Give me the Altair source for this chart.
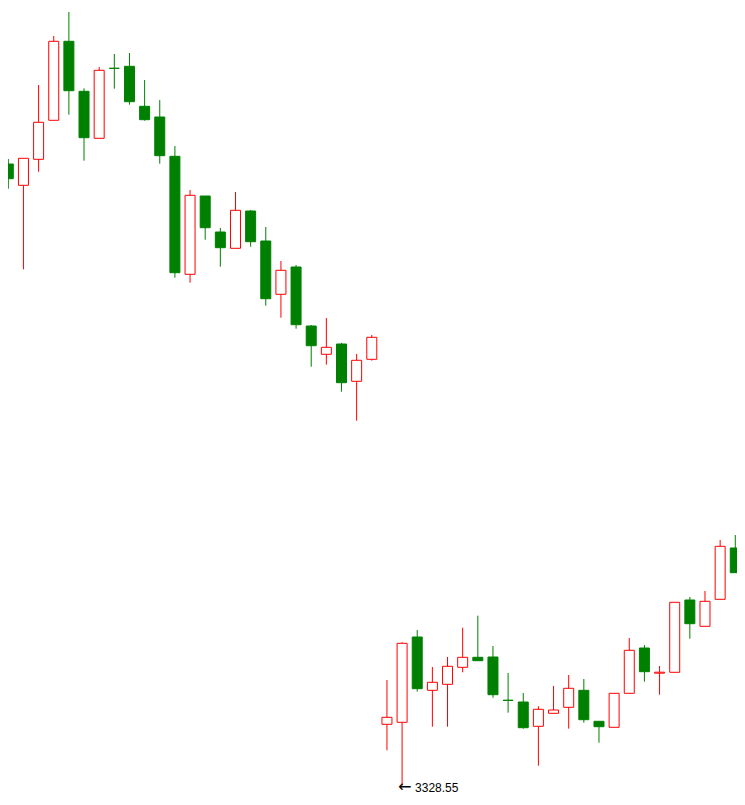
import altair as alt
import pandas as pd

# OHLC values (49 sessions)
opens = [3950.25, 3928.95, 3954.95, 3993.95, 4072.95, 4022.95, 3975.95, 4045.95, 4047.95, 4007.95,
         3997.25, 3957.95, 3839.95, 3918.25, 3882.25, 3865.95, 3903.25, 3873.25, 3819.95, 3847.25,
         3788.25, 3759.95, 3770.25, 3732.95, 3754.95, 3389.95, 3391.95, 3477.25, 3423.95, 3429.95,
         3446.95, 3456.95, 3457.25, 3413.95, 3412.25, 3387.95, 3400.95, 3406.95, 3423.95, 3392.95,
         3386.95, 3420.95, 3466.25, 3441.05, 3441.95, 3514.25, 3487.95, 3514.95, 3566.25]
highs = [3955.25, 3955.95, 4029.25, 4078.25, 4102.25, 4025.95, 4047.25, 4060.25, 4061.25, 4034.25,
         4014.25, 3968.25, 3924.25, 3918.25, 3886.25, 3922.25, 3904.25, 3887.25, 3853.25, 3849.25,
         3789.25, 3796.25, 3771.25, 3760.25, 3779.25, 3434.25, 3471.95, 3484.25, 3447.25, 3457.25,
         3486.55, 3498.55, 3468.25, 3441.25, 3421.25, 3407.95, 3428.25, 3439.25, 3435.25, 3392.95,
         3420.95, 3476.25, 3469.25, 3448.25, 3511.95, 3517.25, 3523.25, 3574.25, 3579.25]
lows = [3925.55, 3844.95, 3942.55, 3993.95, 3999.55, 3953.55, 3975.95, 4025.55, 4009.55, 3993.55,
        3950.55, 3836.55, 3831.55, 3874.55, 3847.55, 3865.95, 3867.55, 3808.55, 3796.55, 3785.55,
        3747.55, 3749.55, 3722.55, 3693.55, 3753.55, 3363.95, 3328.55, 3422.55, 3387.55, 3387.55,
        3441.95, 3453.55, 3416.55, 3401.55, 3385.55, 3348.55, 3400.95, 3385.55, 3391.55, 3371.55,
        3386.95, 3420.95, 3432.55, 3419.55, 3441.95, 3475.55, 3487.95, 3514.95, 3541.55]
closes = [3935.55, 3955.95, 3991.95, 4072.95, 4023.55, 3976.55, 4043.95, 4045.95, 4012.55, 3994.55,
          3958.55, 3841.55, 3918.95, 3886.55, 3866.55, 3903.95, 3872.55, 3815.55, 3843.95, 3789.55,
          3768.55, 3766.95, 3731.55, 3753.95, 3776.95, 3396.95, 3470.95, 3425.55, 3431.95, 3447.95,
          3456.95, 3453.55, 3419.55, 3413.95, 3386.55, 3404.95, 3404.25, 3425.95, 3394.55, 3387.55,
          3420.95, 3463.95, 3442.55, 3442.05, 3511.95, 3490.55, 3512.95, 3567.95, 3541.55]

low_arrow = ["←"]
low_label = ["3328.55"]
low_index = [26]
low_value = [3328.55]

df = pd.DataFrame({
    "i": list(range(len(opens))),
    "open": opens, "high": highs, "low": lows, "close": closes,
})
df["dir"] = ["up" if c > o else "down" for o, c in zip(opens, closes)]

# 15.146 px per session, 1 px per index point
xs = alt.Scale(domain=[-0.02, 48.113], nice=False, zero=False, padding=0)
ys = alt.Scale(domain=[3318.25, 4106.25], nice=False, zero=False, padding=0)
cs = alt.Scale(domain=["up", "down"], range=["#ff0000", "#008000"])

base = alt.Chart(df).encode(x=alt.X("i:Q", scale=xs, axis=None))

wick = base.mark_rule(strokeWidth=1).encode(
    y=alt.Y("low:Q", scale=ys, axis=None),
    y2="high:Q",
    color=alt.Color("dir:N", scale=cs, legend=None),
)

up_body = base.transform_filter("datum.dir == 'up'").mark_bar(
    size=10, fill="white", stroke="#ff0000", strokeWidth=1
).encode(y=alt.Y("open:Q", scale=ys, axis=None), y2="close:Q")

down_body = base.transform_filter("datum.dir == 'down'").mark_bar(
    size=10, fill="#008000", stroke="#008000", strokeWidth=1
).encode(y=alt.Y("open:Q", scale=ys, axis=None), y2="close:Q")

lab_df = pd.DataFrame({"i": low_index, "v": low_value, "t": low_label, "a": low_arrow})

arrow = alt.Chart(lab_df).mark_text(
    align="left", baseline="middle", dx=-4, dy=1, fontSize=16,
    font="DejaVu Sans", color="black"
).encode(
    x=alt.X("i:Q", scale=xs, axis=None),
    y=alt.Y("v:Q", scale=ys, axis=None),
    text="a:N",
)

label = alt.Chart(lab_df).mark_text(
    align="left", baseline="middle", dx=13, dy=2, fontSize=12,
    font="Liberation Sans", color="black"
).encode(
    x=alt.X("i:Q", scale=xs, axis=None),
    y=alt.Y("v:Q", scale=ys, axis=None),
    text="t:N",
)

chart = alt.layer(wick, up_body, down_body, arrow, label).properties(
    width=729, height=788, padding=0, autosize="none", background="white"
).configure_view(stroke=None)

chart.save("out.html", embed_options={"renderer": "svg", "actions": False})
